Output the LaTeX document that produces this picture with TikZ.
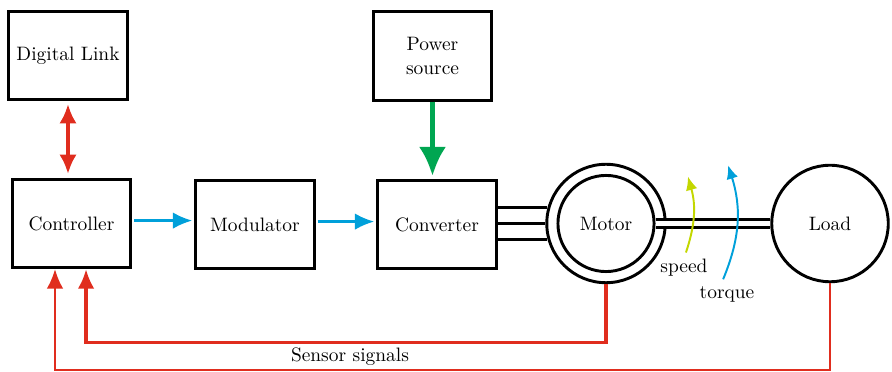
\documentclass[tikz,border=0pt]{standalone}
\usepackage{amsmath,tikz,xcolor}
\usetikzlibrary{arrows.meta,calc}
\definecolor{sigred}{RGB}{224,45,30}
\definecolor{sigblue}{RGB}{0,160,218}
\definecolor{pwrgreen}{RGB}{0,166,81}
\definecolor{spdlime}{RGB}{195,215,0}

\begin{document}
\begin{tikzpicture}[x=0.515pt,y=-0.515pt,
    blk/.style={draw,line width=1.5pt,minimum width=61pt,minimum height=45.5pt,align=center},
    ring/.style={draw,circle,line width=1.5pt,inner sep=0pt},
    ctlarr/.style={sigblue,line width=1.4pt,-{Latex[length=10pt,width=8.5pt]}},
    sensarr/.style={sigred,-{Latex[length=10pt,width=8.5pt]}},
    phase/.style={line width=1.7pt},
    shaft/.style={line width=1.8pt,double=white,double distance=2.3pt}]
  \useasboundingbox (0,0) rectangle (892,372);
  \node[blk] (dlink) at (68,55.5) {Digital Link};
  \node[blk] (ctrl) at (71.5,223.5) {Controller};
  \node[blk] (mod) at (255,224.5) {Modulator};
  \node[blk] (conv) at (437,224.5) {Converter};
  \node[blk] (pwr) at (432.5,56) {Power\\source};
  \node[ring,minimum size=61pt] (motorout) at (606,223.5) {};
  \node[ring,minimum size=49.5pt] (motor) at (606,223.5) {Motor};
  \node[ring,minimum size=60pt] (load) at (830,223.5) {Load};
  % signal and power flow
  \draw[sigred,line width=2pt,{Latex[length=10pt,width=9pt]}-{Latex[length=10pt,width=9pt]},
    shorten <=1.5pt,shorten >=2pt] (dlink.south) -- (dlink.south |- ctrl.north);
  \draw[pwrgreen,line width=2.5pt,-{Latex[length=15pt,width=14pt]},shorten >=1.5pt]
    (pwr.south) -- (pwr.south |- conv.north);
  \draw[ctlarr,shorten <=1pt,shorten >=1pt] ([yshift=1.5pt]ctrl.east) -- ([yshift=1.5pt]ctrl.east -| mod.west);
  \draw[ctlarr,shorten <=1pt,shorten >=1pt] ([yshift=1.5pt]mod.east) -- ([yshift=1.5pt]mod.east -| conv.west);
  % converter to motor
  \foreach \a in {165,180,195}{
    \draw[phase] (motorout.\a) -- (conv.east |- motorout.\a);
  }
  \draw[shaft] (motor.east) -- (motor.east -| load.west);
  % speed and torque
  \node (spdlbl) at (684,268) {speed};
  \node (trqlbl) at (727,294) {torque};
  \draw[spdlime,line width=1pt,-{Latex[length=7pt,width=6pt]}]
    ([xshift=1pt]spdlbl.north) to[bend right=17] ++(2,-76);
  \draw[sigblue,line width=1pt,-{Latex[length=7pt,width=6pt]}]
    ([xshift=-2pt]trqlbl.north) to[bend right=20] ++(5,-114);
  % sensor feedback
  \draw[sensarr,line width=1.7pt] (motorout.south) -- ++(0,58) -| ([xshift=7.5pt]ctrl.south);
  \draw[sensarr,line width=1.1pt] (load.south) -- ++(0,87) -| ([xshift=-8.5pt]ctrl.south);
  \node (senslbl) at (350,357) {Sensor signals};
\end{tikzpicture}
\end{document}
